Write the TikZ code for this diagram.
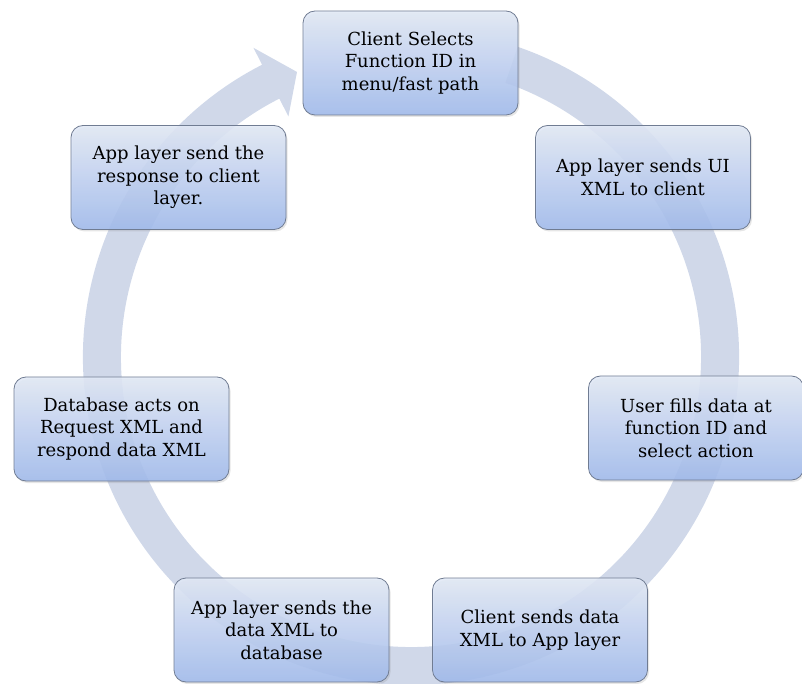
\documentclass[tikz,border=0pt]{standalone}
\usepackage{fontspec}
\setmainfont{DejaVu Serif}
\usepackage{xcolor}
\usepackage{tikz}
\usetikzlibrary{shadows}

\definecolor{ringblue}{RGB}{208,216,233}
\definecolor{boxtop}{RGB}{226,233,246}
\definecolor{boxbottom}{RGB}{160,186,236}
\definecolor{boxline}{RGB}{112,124,146}

\tikzset{
  stepbox/.style={rectangle, rounded corners=12pt, draw=boxline, line width=0.8pt,
    top color=boxtop, bottom color=boxbottom, fill opacity=0.88, text opacity=1,
    minimum width=215pt, minimum height=104pt, align=center, inner sep=2pt,
    font=\fontsize{18}{22.5}\selectfont,
    drop shadow={opacity=0.2, shadow xshift=1.5pt, shadow yshift=-2pt}},
}

\begin{document}
\begin{tikzpicture}[x=1pt, y=1pt]
\useasboundingbox (0,0) rectangle (802,683);
\coordinate (center) at (411,326);

% Ring with arrow head
\fill[ringblue] ([shift={(71:328)}]center) arc[start angle=71, end angle=-243, radius=328]
  -- ([shift={(117:347)}]center) -- ([shift={(111.8:307)}]center)
  -- ([shift={(117:270)}]center) -- ([shift={(-243:290)}]center)
  arc[start angle=-243, end angle=71, radius=290] -- cycle;

\node[stepbox] (select) at (410.5,620) {Client Selects\\Function ID in\\menu/fast path};
\node[stepbox] (uixml) at (643,505.5) {App layer sends UI\\XML to client};
\node[stepbox] (userfill) at (696,255) {User fills data at\\function ID and\\select action};
\node[stepbox] (senddata) at (540,53) {Client sends data\\XML to App layer};
\node[stepbox] (dataxml) at (281.5,53) {App layer sends the\\data XML to\\database};
\node[stepbox] (dbacts) at (121.5,254) {Database acts on\\Request XML and\\respond data XML};
\node[stepbox] (response) at (178.5,505.5) {App layer send the\\response to client\\layer.};
\end{tikzpicture}
\end{document}
